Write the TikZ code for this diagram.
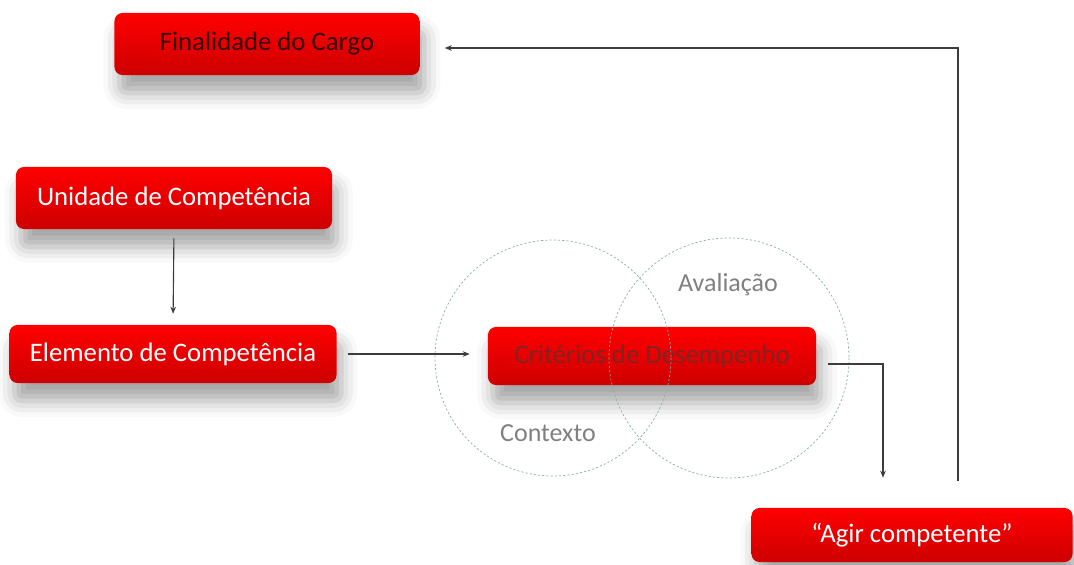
\documentclass[tikz,border=0pt]{standalone}
\usepackage{fontspec}
\setmainfont{Carlito}
\usetikzlibrary{arrows.meta}
\usetikzlibrary{calc, shadows.blur}
\definecolor{boxred}{RGB}{255,0,0}
\definecolor{boxdark}{RGB}{205,0,0}
\definecolor{ringcol}{RGB}{140,170,170}
\definecolor{labelgray}{RGB}{128,128,128}
\definecolor{arrowgray}{RGB}{60,60,60}
\begin{document}
\begin{tikzpicture}%
	[x=0.025cm, y=-0.025cm,
	box/.style={rectangle, rounded corners=0.2cm, inner sep=0pt,
		top color=boxred, middle color=boxred, bottom color=boxdark,
		font=\fontsize{19}{22}\selectfont,
		blur shadow={shadow xshift=0.12cm, shadow yshift=-0.45cm,
			shadow blur radius=0.4cm, shadow opacity=35}},
	arr/.style={draw=arrowgray, line width=0.8pt, -{Stealth[length=5pt,width=4pt]}},
	ring/.style={draw=ringcol, dashed, dash pattern=on 1.5pt off 1.5pt, line width=0.5pt},
	lbl/.style={text=labelgray, font=\fontsize{18.5}{22}\selectfont}]
%
\useasboundingbox (0,0) rectangle (1074,565);
%
%% the boxes
%%
\node[box, minimum width=7.625cm, minimum height=1.55cm, text={rgb,255:red,55;green,0;blue,0}] (fin) at (267,44) {Finalidade do Cargo};
\node[box, minimum width=7.9cm, minimum height=1.55cm, text=white] (unid) at (174,198) {Unidade de Competência};
\node[box, minimum width=8.175cm, minimum height=1.45cm, text=white] (elem) at (173,354) {Elemento de Competência};
\node[box, minimum width=8.2cm, minimum height=1.45cm, text={rgb,255:red,130;green,35;blue,35}] (crit) at (652,356) {Critérios de Desempenho};
\node[box, minimum width=8.025cm, minimum height=1.35cm, text=white] (agir) at (912,535) {“Agir competente”};
%%
%% the two circles
%%
\draw[ring] (553,358) circle[radius=118];
\draw[ring] (729,358) circle[radius=120];
\node[lbl] (aval) at (728,285) {Avaliação};
\node[lbl] (ctx) at (548,433) {Contexto};
%%
%% connectors
%%
\coordinate (c1) at ($(crit.east)+(12,8)$);
\coordinate (c2) at ($(agir.north)+(-29,-30)$);
\coordinate (c3) at ($(agir.north)+(46,-27)$);
\coordinate (c4) at ($(fin.east)+(25,4)$);
\draw[arr, shorten <=0.225cm, shorten >=0.275cm] (unid.south) -- (elem.north);
\draw[arr, shorten <=0.275cm, shorten >=0.45cm] (elem.east) -- (elem.east -| crit.west);
\draw[arr] (c1) -| (c2);
\draw[arr] (c3) |- (c4);
%%
\end{tikzpicture}
\end{document}
